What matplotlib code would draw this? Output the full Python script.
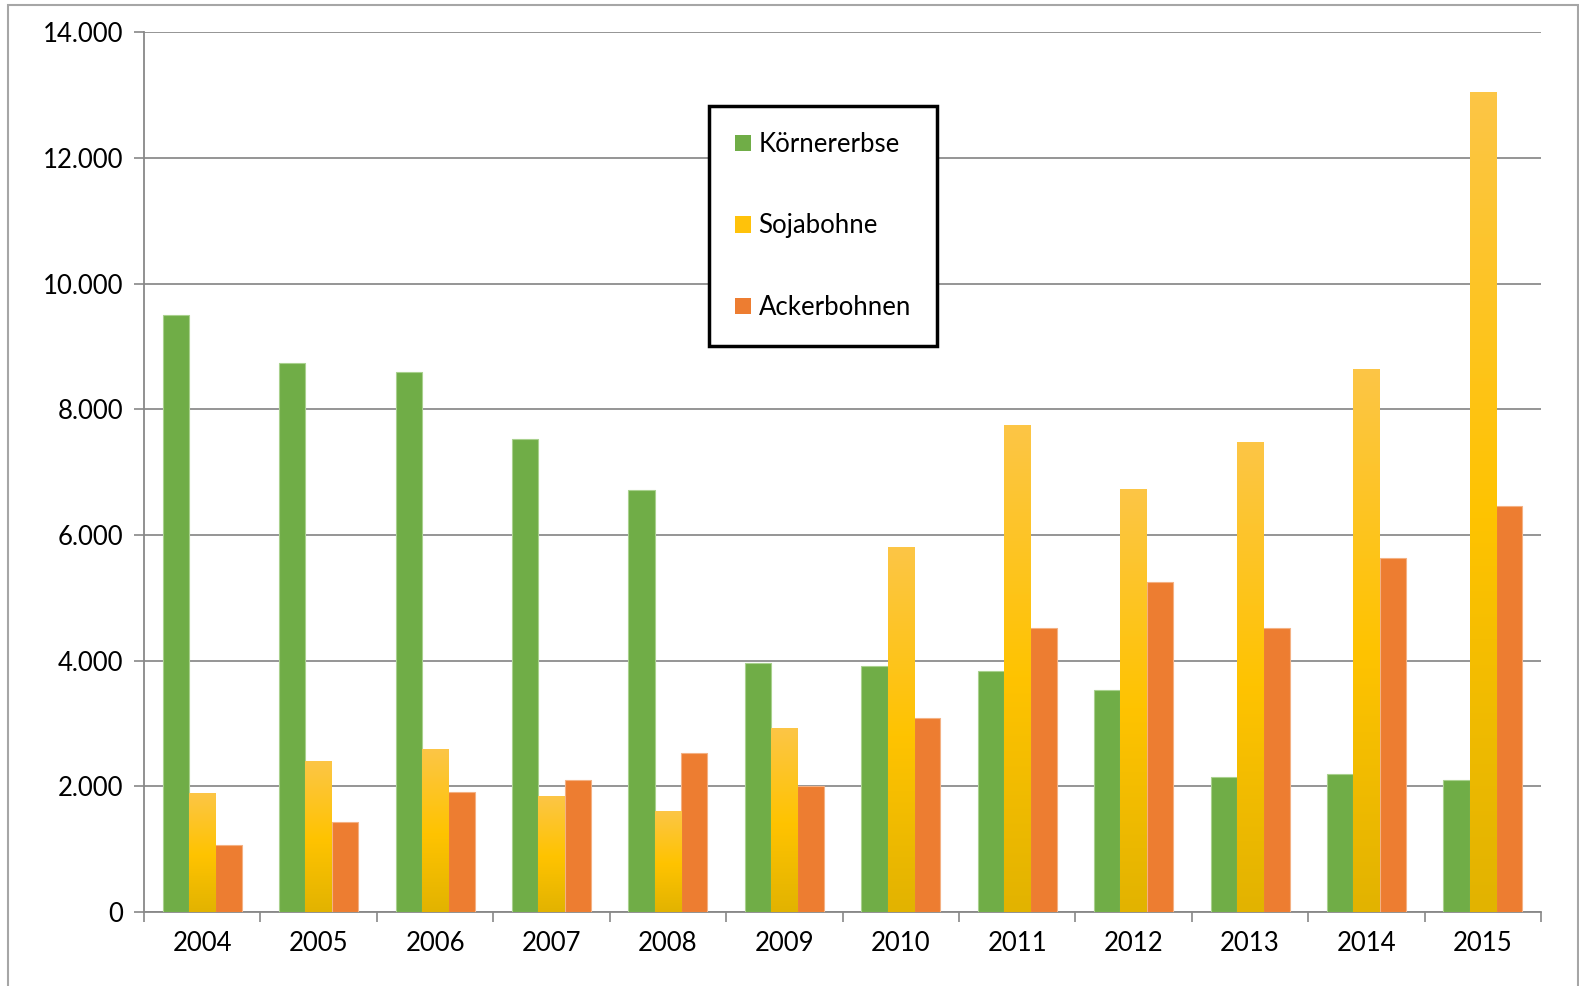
import matplotlib
matplotlib.use("Agg")
import matplotlib.pyplot as plt
import numpy as np
from matplotlib.colors import LinearSegmentedColormap
from matplotlib.patches import Rectangle, Patch
from matplotlib.ticker import FuncFormatter

years = ["2004", "2005", "2006", "2007", "2008", "2009", "2010", "2011", "2012", "2013", "2014", "2015"]
koernererbse = [9500, 8730, 8590, 7530, 6710, 3970, 3920, 3840, 3540, 2150, 2190, 2100]
sojabohne = [1890, 2390, 2580, 1840, 1600, 2920, 5800, 7740, 6730, 7470, 8640, 13040]
ackerbohnen = [1060, 1440, 1910, 2100, 2530, 2000, 3080, 4520, 5250, 4520, 5640, 6460]
series_names = ["Körnererbse", "Sojabohne", "Ackerbohnen"]

GREEN = "#70AD47"
ORANGE = "#ED7D31"
YELLOW = "#FFC000"
grad_cmap = LinearSegmentedColormap.from_list(
    "soja", [(0.0, "#E2B300"), (0.48, "#FFC300"), (1.0, "#FCC646")])

plt.rcParams['font.family'] = ['Lato', 'DejaVu Sans']

fig = plt.figure(figsize=(15.79, 9.86), dpi=100)
ax = fig.add_axes([0.0912, 0.075, 0.8848, 0.8923])

x = np.arange(len(years))
w = 0.226
ax.bar(x - w, koernererbse, w, color=GREEN, edgecolor="#A9D18E", linewidth=0.8, zorder=3)
soja_bars = ax.bar(x, sojabohne, w, facecolor='none', linewidth=0, zorder=3)
ax.bar(x + w, ackerbohnen, w, color=ORANGE, edgecolor="#F4B183", linewidth=0.8, zorder=3)

grad = np.linspace(1, 0, 256).reshape(-1, 1)
for b in soja_bars:
    x0, y0 = b.get_x(), b.get_y()
    bw, bh = b.get_width(), b.get_height()
    ax.imshow(grad, cmap=grad_cmap, vmin=0, vmax=1, aspect='auto',
              extent=[x0, x0 + bw, y0, y0 + bh], zorder=3.1, interpolation='bilinear')

ax.set_xlim(-0.5, len(years) - 0.5)
ax.set_ylim(0, 14000)
ax.set_yticks(np.arange(0, 14001, 2000))
ax.yaxis.set_major_formatter(FuncFormatter(lambda v, p: f"{int(v):,}".replace(",", ".")))
ax.set_xticks(x)
ax.set_xticklabels(years)
ax.set_xticks(np.arange(-0.5, len(years), 1.0), minor=True)
ax.tick_params(axis='x', which='major', length=0, pad=14, labelsize=18.5)
ax.tick_params(axis='x', which='minor', length=7, width=1.2, color="#888888", direction='out')
ax.tick_params(axis='y', length=7, width=1.2, color="#888888", direction='out', pad=8, labelsize=18.5)

ax.grid(axis='y', color="#8C8C8C", linewidth=1.3, zorder=0)
ax.set_axisbelow(True)
for s in ["top", "right"]:
    ax.spines[s].set_visible(False)
for s in ["left", "bottom"]:
    ax.spines[s].set_color("#888888")
    ax.spines[s].set_linewidth(1.3)

handles = [Patch(facecolor=GREEN, edgecolor='none'),
           Patch(facecolor="#FFC20A", edgecolor='none'),
           Patch(facecolor=ORANGE, edgecolor='none')]
leg = ax.legend(handles, series_names, loc='center', bbox_to_anchor=(823 / 1579, 1 - 226 / 986),
                bbox_transform=fig.transFigure, fontsize=18.5, frameon=True,
                fancybox=False, edgecolor="black", borderpad=1.02, labelspacing=2.2,
                handlelength=0.62, handleheight=0.62, handletextpad=0.3, framealpha=1)
leg.get_frame().set_linewidth(2.5)
leg.set_zorder(10)

fig.patches.append(Rectangle((8 / 1579, -0.05), (1578 - 8) / 1579, 1.05 - 5 / 986,
                             transform=fig.transFigure, fill=False,
                             edgecolor="#A6A6A6", linewidth=1.5))

fig.savefig("out.png", dpi=100)
